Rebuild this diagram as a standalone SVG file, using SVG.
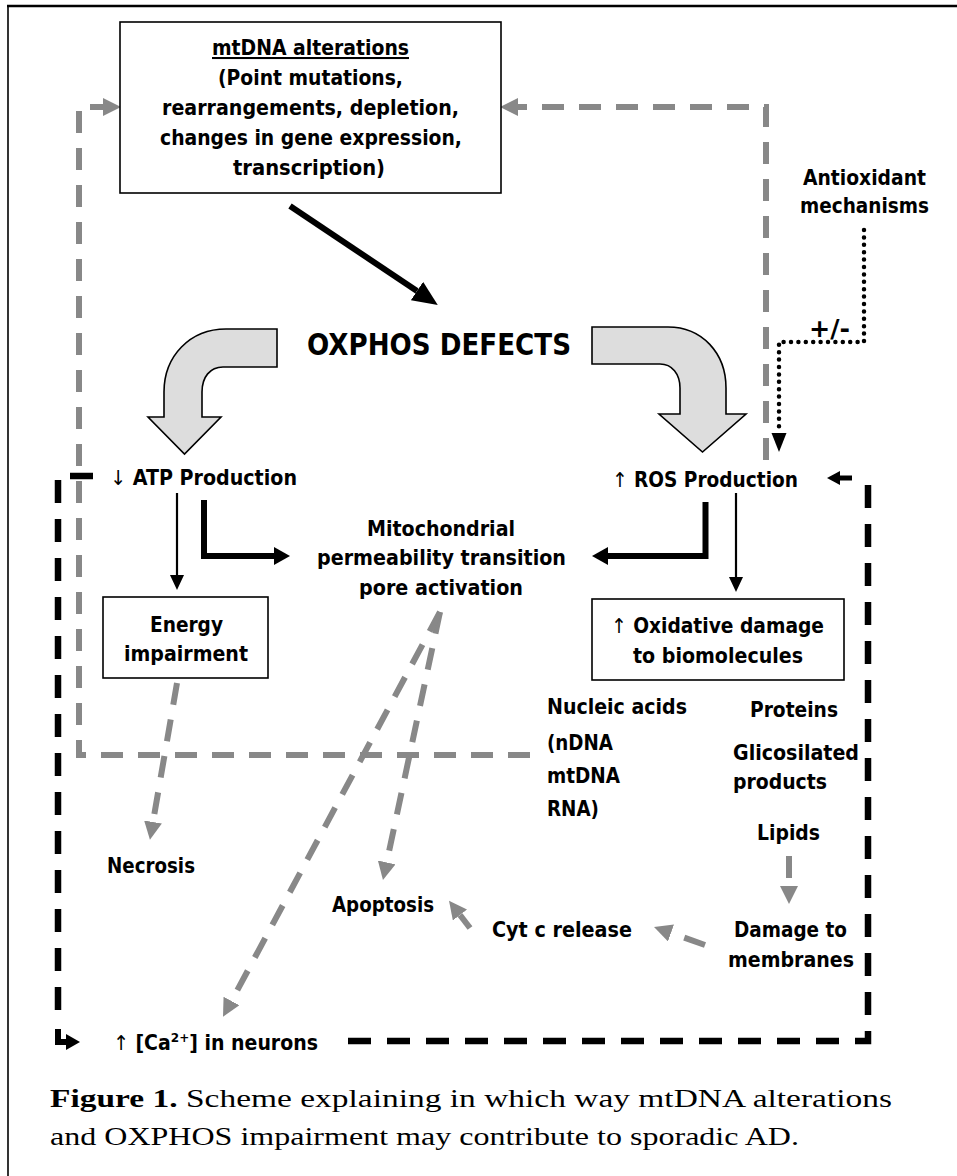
<svg xmlns="http://www.w3.org/2000/svg" width="957" height="1176" viewBox="0 0 957 1176">
<style>
.t{font-family:"DejaVu Sans","Liberation Sans",sans-serif;font-weight:bold;font-size:20.5px;fill:#000}
.ar{font-weight:normal}
.cap{font-family:"Liberation Serif","Times New Roman",serif;font-size:26px;fill:#000}
.box{fill:#fff;stroke:#000;stroke-width:1.6}
.blk{fill:#ddd;stroke:#000;stroke-width:1.6}
.gd{fill:none;stroke:#888;stroke-width:6;stroke-dasharray:22 15}
.bd{fill:none;stroke:#000;stroke-width:6.5;stroke-dasharray:23 16}
.thin{fill:none;stroke:#000;stroke-width:2.2}
.thick{fill:none;stroke:#000;stroke-width:6}
.dot{fill:none;stroke:#000;stroke-width:4.5;stroke-linecap:round;stroke-dasharray:0 7.4}
</style>
<defs>
<marker id="gh" markerUnits="userSpaceOnUse" markerWidth="18" markerHeight="18" refX="0" refY="9" orient="auto"><path d="M0,0 L18,9 L0,18 Z" fill="#888"/></marker>
<marker id="th" markerUnits="userSpaceOnUse" markerWidth="15" markerHeight="14" refX="0" refY="7" orient="auto"><path d="M0,0 L15,7 L0,14 Z" fill="#000"/></marker>
<marker id="kh" markerUnits="userSpaceOnUse" markerWidth="16" markerHeight="18" refX="0" refY="9" orient="auto"><path d="M0,0 L16,9 L0,18 Z" fill="#000"/></marker>
<marker id="dh" markerUnits="userSpaceOnUse" markerWidth="25" markerHeight="22" refX="0" refY="11" orient="auto"><path d="M0,0 L25,11 L0,22 Z" fill="#000"/></marker>
</defs>
<rect width="957" height="1176" fill="#fff"/>
<g id="frame" fill="none" stroke="#000">
<line x1="7" y1="6" x2="957" y2="6" stroke-width="2.5"/>
<line x1="8" y1="5" x2="8" y2="1176" stroke-width="1.6"/>
</g>
<g id="connectors">
<path class="gd" d="M530,755 H79 V107 H103" marker-end="url(#gh)"/>
<path class="gd" d="M766,460 V107 H518" marker-end="url(#gh)"/>
<path class="gd" d="M177,683 L153,822" marker-end="url(#gh)"/>
<path class="gd" d="M440,612 L386.7,862.4" marker-end="url(#gh)"/>
<path class="gd" d="M440,612 L231.5,1001" marker-end="url(#gh)"/>
<path class="gd" d="M789,856 V886" marker-end="url(#gh)"/>
<path class="gd" d="M705,945 L671,933" marker-end="url(#gh)"/>
<path class="gd" style="stroke-dasharray:none" d="M470,928 L460,915" marker-end="url(#gh)"/>
<path class="thick" d="M290,206 L417,291" marker-end="url(#dh)"/>
<path class="thin" d="M177,493 V575" marker-end="url(#th)"/>
<path class="thin" d="M736,493 V577" marker-end="url(#th)"/>
<path class="thick" d="M204,500 V556 H274" marker-end="url(#kh)"/>
<path class="thick" d="M705.5,502 V556 H608" marker-end="url(#kh)"/>
<path class="dot" d="M864,230 V342 H779 V432"/>
<path fill="#000" d="M771.5,433 L786.5,433 L779,452 Z"/>
<path class="bd" d="M348,1041 H868 V477"/>
<path fill="none" stroke="#000" stroke-width="5" d="M852,478 H839"/>
<path fill="#000" d="M840,471 L827,478 L840,485 Z"/>
<path class="bd" d="M93,476 H58 V1020"/>
<path fill="none" stroke="#000" stroke-width="6" d="M58,1029 V1042 H67"/>
<path fill="#000" d="M66,1034 L80,1042 L66,1050 Z"/>
</g>
<g id="mtdna">
<rect class="box" x="120" y="22" width="381" height="171"/>
<text class="t" x="212" y="55" textLength="197" lengthAdjust="spacingAndGlyphs" style="text-decoration:underline">mtDNA alterations</text>
<text class="t" x="218" y="85" textLength="185" lengthAdjust="spacingAndGlyphs">(Point mutations,</text>
<text class="t" x="162" y="115" textLength="297" lengthAdjust="spacingAndGlyphs">rearrangements, depletion,</text>
<text class="t" x="160" y="145" textLength="302" lengthAdjust="spacingAndGlyphs">changes in gene expression,</text>
<text class="t" x="233" y="175" textLength="152" lengthAdjust="spacingAndGlyphs">transcription)</text>
</g>
<g id="oxphos">
<text class="t" x="307" y="355" style="font-size:31px" textLength="264" lengthAdjust="spacingAndGlyphs">OXPHOS DEFECTS</text>
<path class="blk" d="M277,329 H226 C190,329 164,356 164,392 V417 H148 L184.5,454 L221,417 H202 V392 C202,377 210,367 223,367 H277 Z"/>
<path class="blk" d="M592,327 H668 C702,327 726,353 726,388 V414 H746 L702.5,452 L659,414 H680 V388 C680,374 672,364 660,364 H592 Z"/>
</g>
<g id="antioxidant">
<text class="t" x="803" y="185" textLength="123" lengthAdjust="spacingAndGlyphs">Antioxidant</text>
<text class="t" x="800" y="213" textLength="129" lengthAdjust="spacingAndGlyphs">mechanisms</text>
<text class="t" x="809" y="337" style="font-size:24px" textLength="41" lengthAdjust="spacingAndGlyphs">+/-</text>
</g>
<g id="atp">
<text class="t" x="110" y="485" textLength="187" lengthAdjust="spacingAndGlyphs"><tspan class="ar">↓</tspan> ATP Production</text>
</g>
<g id="ros">
<text class="t" x="612" y="487" textLength="186" lengthAdjust="spacingAndGlyphs"><tspan class="ar">↑</tspan> ROS Production</text>
</g>
<g id="mptp">
<text class="t" x="367" y="536" textLength="148" lengthAdjust="spacingAndGlyphs">Mitochondrial</text>
<text class="t" x="317" y="565" textLength="249" lengthAdjust="spacingAndGlyphs">permeability transition</text>
<text class="t" x="359" y="595" textLength="164" lengthAdjust="spacingAndGlyphs">pore activation</text>
</g>
<g id="energy">
<rect class="box" x="103" y="597" width="165" height="81"/>
<text class="t" x="150" y="632" textLength="73" lengthAdjust="spacingAndGlyphs">Energy</text>
<text class="t" x="124" y="661" textLength="124" lengthAdjust="spacingAndGlyphs">impairment</text>
</g>
<g id="oxidative">
<rect class="box" x="592" y="599" width="252" height="81"/>
<text class="t" x="611" y="633" textLength="213" lengthAdjust="spacingAndGlyphs"><tspan class="ar">↑</tspan> Oxidative damage</text>
<text class="t" x="633" y="663" textLength="170" lengthAdjust="spacingAndGlyphs">to biomolecules</text>
</g>
<g id="nucleic">
<text class="t" x="547" y="714" textLength="140" lengthAdjust="spacingAndGlyphs">Nucleic acids</text>
<text class="t" x="547" y="750" textLength="66" lengthAdjust="spacingAndGlyphs">(nDNA</text>
<text class="t" x="547" y="783" textLength="73" lengthAdjust="spacingAndGlyphs">mtDNA</text>
<text class="t" x="547" y="816" textLength="52" lengthAdjust="spacingAndGlyphs">RNA)</text>
</g>
<g id="proteins"><text class="t" x="750" y="717" textLength="88" lengthAdjust="spacingAndGlyphs">Proteins</text></g>
<g id="glico">
<text class="t" x="733" y="760" textLength="126" lengthAdjust="spacingAndGlyphs">Glicosilated</text>
<text class="t" x="733" y="789" textLength="94" lengthAdjust="spacingAndGlyphs">products</text>
</g>
<g id="lipids"><text class="t" x="757" y="840" textLength="63" lengthAdjust="spacingAndGlyphs">Lipids</text></g>
<g id="damage">
<text class="t" x="734" y="937" textLength="113" lengthAdjust="spacingAndGlyphs">Damage to</text>
<text class="t" x="728" y="967" textLength="126" lengthAdjust="spacingAndGlyphs">membranes</text>
</g>
<g id="cytc"><text class="t" x="492" y="937" textLength="140" lengthAdjust="spacingAndGlyphs">Cyt c release</text></g>
<g id="apoptosis"><text class="t" x="332" y="912" textLength="102" lengthAdjust="spacingAndGlyphs">Apoptosis</text></g>
<g id="necrosis"><text class="t" x="107" y="873" textLength="88" lengthAdjust="spacingAndGlyphs">Necrosis</text></g>
<g id="calcium">
<text class="t" x="113" y="1050" textLength="205" lengthAdjust="spacingAndGlyphs"><tspan class="ar">↑</tspan> [Ca<tspan style="font-size:13px" dy="-8">2+</tspan><tspan dy="8">] in neurons</tspan></text>
</g>
<g id="caption">
<text class="cap" x="50" y="1107" textLength="842" lengthAdjust="spacingAndGlyphs"><tspan font-weight="bold">Figure 1.</tspan> Scheme explaining in which way mtDNA alterations</text>
<text class="cap" x="50" y="1145" textLength="749" lengthAdjust="spacingAndGlyphs">and OXPHOS impairment may contribute to sporadic AD.</text>
</g>
</svg>
